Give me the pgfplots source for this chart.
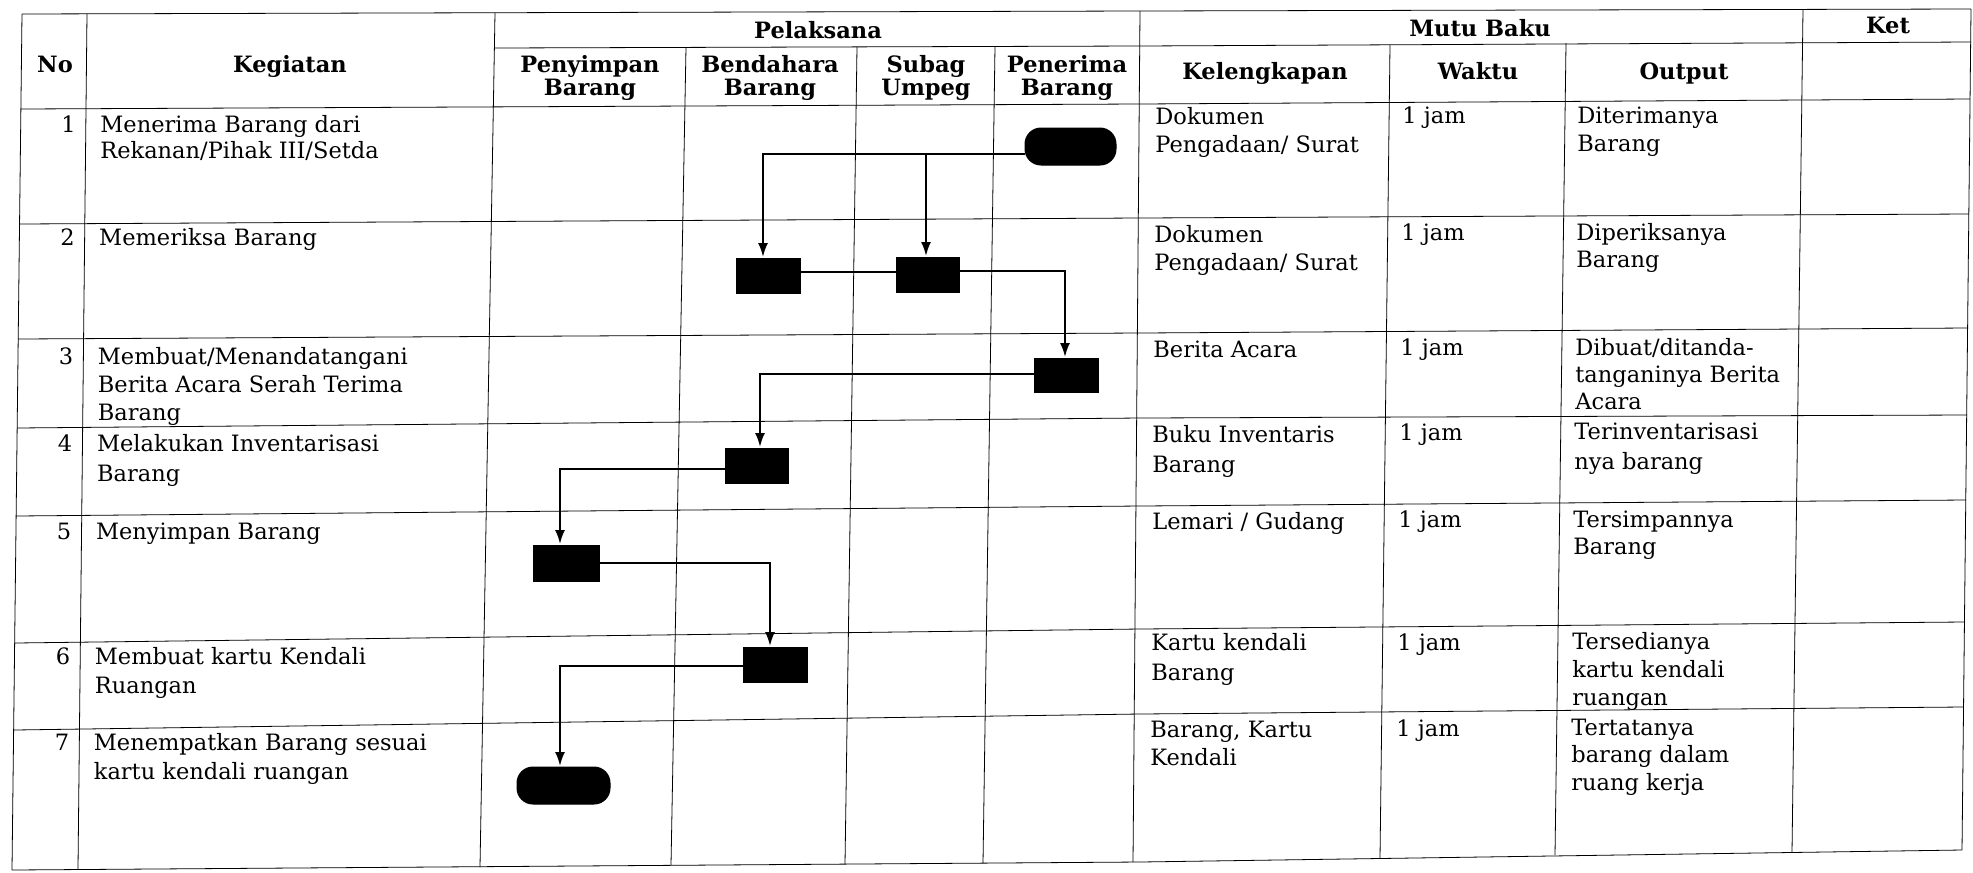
\documentclass[border=0pt]{standalone}
\usepackage{fontspec}
\setmainfont{DejaVu Serif}
\usepackage{pgfplots}
\pgfplotsset{compat=1.18}
\usetikzlibrary{arrows.meta}
\begin{document}
\begin{tikzpicture}
\tikzset{
  t/.style={anchor=base west, inner sep=0pt, font=\fontsize{11.3}{13}\selectfont},
  tn/.style={anchor=base east, inner sep=0pt, font=\fontsize{11.3}{13}\selectfont},
  th/.style={anchor=base, inner sep=0pt, font=\bfseries\fontsize{11.3}{13}\selectfont},
  grid/.style={black, line width=1.3bp},
  conn/.style={black, line width=1bp},
  arr/.style={black, line width=1bp, -{Latex[length=7bp,width=5bp]}},
  blk/.style={fill=black, draw=black, line width=0.5bp},
}
\begin{axis}[x=0.5bp, y=0.5bp, y dir=reverse,
  xmin=0, xmax=1973, ymin=0, ymax=872,
  hide axis, clip=false]
% background
\addplot[fill=white, draw=none] coordinates {(0,0) (1973,0) (1973,872) (0,872)} -- cycle;
% horizontal lines
\addplot[grid] coordinates {(22,14) (1140,11) (1971,9)};
\addplot[grid] coordinates {(495,48) (1140,46) (1971,42)};
\addplot[grid] coordinates {(21,109) (1140,104) (1970,99)};
\addplot[grid] coordinates {(20,224) (1140,218) (1969,214)};
\addplot[grid] coordinates {(18,339) (1140,333) (1968,328)};
\addplot[grid] coordinates {(17,428) (1140,418) (1967,415)};
\addplot[grid] coordinates {(16,516) (1140,506) (1966,500)};
\addplot[grid] coordinates {(15,643) (1140,629) (1964,622)};
\addplot[grid] coordinates {(14,730) (1140,714) (1963,707)};
\addplot[grid] coordinates {(12,870) (1140,862) (1962,850)};
% vertical lines
\addplot[grid] coordinates {(22,14) (12,870)};
\addplot[grid] coordinates {(87,14) (78,869)};
\addplot[grid] coordinates {(495,13) (480,867)};
\addplot[grid] coordinates {(686,47) (671,865)};
\addplot[grid] coordinates {(857,47) (845,864)};
\addplot[grid] coordinates {(995,46) (983,863)};
\addplot[grid] coordinates {(1140,11) (1133,862)};
\addplot[grid] coordinates {(1390,45) (1380,858)};
\addplot[grid] coordinates {(1566,43) (1555,855)};
\addplot[grid] coordinates {(1803,9) (1792,852)};
\addplot[grid] coordinates {(1971,9) (1962,850)};
% flow shapes
\addplot[blk, rounded corners=8bp] coordinates {(1025,128) (1116,128) (1116,165) (1025,165)} -- cycle;
\addplot[blk] coordinates {(736,258) (800,258) (800,293) (736,293)} -- cycle;
\addplot[blk] coordinates {(896,257) (959,257) (959,292) (896,292)} -- cycle;
\addplot[blk] coordinates {(1034,358) (1098,358) (1098,392) (1034,392)} -- cycle;
\addplot[blk] coordinates {(725,448) (788,448) (788,483) (725,483)} -- cycle;
\addplot[blk] coordinates {(533,545) (599,545) (599,581) (533,581)} -- cycle;
\addplot[blk] coordinates {(743,647) (807,647) (807,682) (743,682)} -- cycle;
\addplot[blk, rounded corners=8bp] coordinates {(517,767) (610,767) (610,804) (517,804)} -- cycle;
% connectors
\addplot[arr] coordinates {(1025,154) (763,154) (763,257)};
\addplot[arr] coordinates {(926,154) (926,256)};
\addplot[conn] coordinates {(800,272) (896,272)};
\addplot[arr] coordinates {(959,271) (1065,271) (1065,357)};
\addplot[arr] coordinates {(1034,374) (760,374) (760,447)};
\addplot[arr] coordinates {(725,469) (560,469) (560,544)};
\addplot[arr] coordinates {(599,563) (770,563) (770,646)};
\addplot[arr] coordinates {(743,666) (560,666) (560,766)};
% headers
\node[th] at (55,72) {No};
\node[th] at (290,72) {Kegiatan};
\node[th] at (818,38) {Pelaksana};
\node[th] at (590,72) {Penyimpan};
\node[th] at (590,95) {Barang};
\node[th] at (770,72) {Bendahara};
\node[th] at (770,95) {Barang};
\node[th] at (926,72) {Subag};
\node[th] at (926,95) {Umpeg};
\node[th] at (1067,72) {Penerima};
\node[th] at (1067,95) {Barang};
\node[th] at (1480,36) {Mutu Baku};
\node[th] at (1888,33) {Ket};
\node[th] at (1265,79) {Kelengkapan};
\node[th] at (1478,79) {Waktu};
\node[th] at (1684,79) {Output};
% numbers
\node[tn] at (76,132) {1};
\node[tn] at (75,245) {2};
\node[tn] at (73.5,364) {3};
\node[tn] at (72.5,451) {4};
\node[tn] at (71.5,539) {5};
\node[tn] at (70.5,664) {6};
\node[tn] at (69.5,750) {7};
% kegiatan
\node[t] at (100,132) {Menerima Barang dari};
\node[t] at (100,158) {Rekanan/Pihak III/Setda};
\node[t] at (98.8,245) {Memeriksa Barang};
\node[t] at (97.5,364) {Membuat/Menandatangani};
\node[t] at (97.5,392) {Berita Acara Serah Terima};
\node[t] at (97.5,420) {Barang};
\node[t] at (96.7,451) {Melakukan Inventarisasi};
\node[t] at (96.7,481) {Barang};
\node[t] at (95.7,539) {Menyimpan Barang};
\node[t] at (94.5,664) {Membuat kartu Kendali};
\node[t] at (94.5,693) {Ruangan};
\node[t] at (93.5,750) {Menempatkan Barang sesuai};
\node[t] at (93.5,779) {kartu kendali ruangan};
% kelengkapan
\node[t] at (1155,124) {Dokumen};
\node[t] at (1155,152) {Pengadaan/ Surat};
\node[t] at (1154,242) {Dokumen};
\node[t] at (1154,270) {Pengadaan/ Surat};
\node[t] at (1153,357) {Berita Acara};
\node[t] at (1152,442) {Buku Inventaris};
\node[t] at (1152,472) {Barang};
\node[t] at (1152,529) {Lemari / Gudang};
\node[t] at (1151,650) {Kartu kendali};
\node[t] at (1151,680) {Barang};
\node[t] at (1150,737) {Barang, Kartu};
\node[t] at (1150,765) {Kendali};
% waktu
\node[t] at (1402,123) {1 jam};
\node[t] at (1401,240) {1 jam};
\node[t] at (1400,355) {1 jam};
\node[t] at (1399,440) {1 jam};
\node[t] at (1398,527) {1 jam};
\node[t] at (1397,650) {1 jam};
\node[t] at (1396,736) {1 jam};
% output
\node[t] at (1577,123) {Diterimanya};
\node[t] at (1577,151) {Barang};
\node[t] at (1576,240) {Diperiksanya};
\node[t] at (1576,267) {Barang};
\node[t] at (1575,355) {Dibuat/ditanda-};
\node[t] at (1575,382) {tanganinya Berita};
\node[t] at (1575,409) {Acara};
\node[t] at (1574,439) {Terinventarisasi};
\node[t] at (1574,469) {nya barang};
\node[t] at (1573,527) {Tersimpannya};
\node[t] at (1573,554) {Barang};
\node[t] at (1572,649) {Tersedianya};
\node[t] at (1572,677) {kartu kendali};
\node[t] at (1572,705) {ruangan};
\node[t] at (1571,735) {Tertatanya};
\node[t] at (1571,762) {barang dalam};
\node[t] at (1571,790) {ruang kerja};
\end{axis}
\end{tikzpicture}
\end{document}
